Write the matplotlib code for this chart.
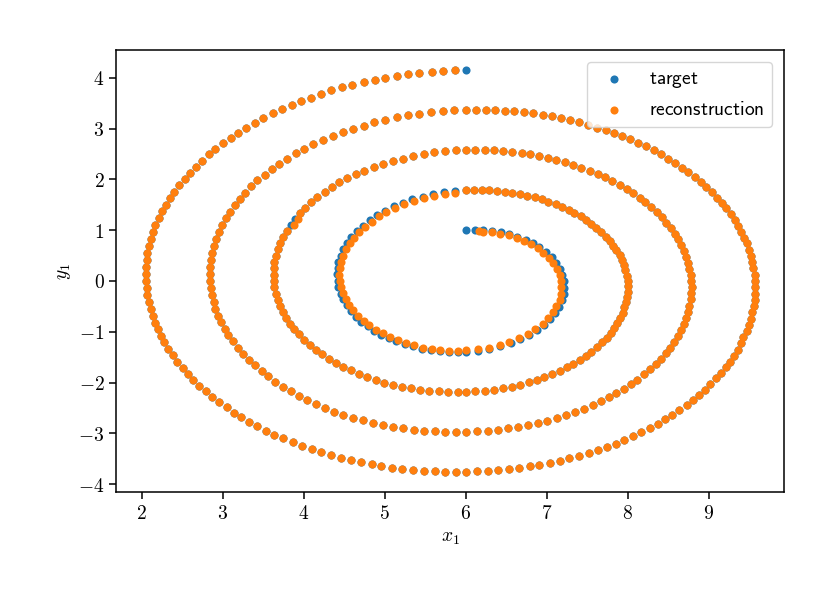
import matplotlib
matplotlib.use("Agg")
import matplotlib.pyplot as plt
from matplotlib.ticker import FuncFormatter

# --------------------------------------------------
# DATA (read off the reference spiral)
# --------------------------------------------------

target_x = [
    6.01, 6.12, 6.22, 6.33, 6.44, 6.54, 6.64, 6.74, 6.83, 6.91, 6.99, 7.06, 7.11, 7.16, 7.19,
    7.21, 7.21, 7.21, 7.19, 7.15, 7.10, 7.04, 6.97, 6.88, 6.78, 6.67, 6.56, 6.43, 6.29, 6.15,
    6.01, 5.90, 5.79, 5.68, 5.57, 5.46, 5.35, 5.25, 5.14, 5.05, 4.95, 4.87, 4.79, 4.71, 4.65,
    4.59, 4.53, 4.49, 4.46, 4.43, 4.42, 4.41, 4.42, 4.43, 4.46, 4.49, 4.54, 4.59, 4.66, 4.73,
    4.82, 4.91, 5.01, 5.11, 5.23, 5.34, 5.47, 5.60, 5.73, 5.87,
    6.01, 6.10, 6.20, 6.29, 6.39, 6.48, 6.57, 6.67, 6.76, 6.85, 6.94, 7.02, 7.11, 7.19, 7.27,
    7.34, 7.42, 7.49, 7.55, 7.61, 7.67, 7.73, 7.78, 7.82, 7.86, 7.90, 7.93, 7.95, 7.97, 7.99,
    8.00, 8.00, 8.00, 7.99, 7.98, 7.96, 7.94, 7.91, 7.87, 7.83, 7.79, 7.74, 7.68, 7.62, 7.55,
    7.48, 7.41, 7.33, 7.25, 7.16, 7.07, 6.97, 6.88, 6.78, 6.67, 6.57, 6.46, 6.35, 6.24, 6.12,
    6.01, 5.90, 5.78, 5.67, 5.55, 5.44, 5.32, 5.21, 5.10, 4.99, 4.89, 4.78, 4.68, 4.58, 4.49,
    4.40, 4.31, 4.23, 4.15, 4.08, 4.01, 3.94, 3.88, 3.83, 3.78, 3.74, 3.71, 3.68, 3.66, 3.64,
    3.63, 3.63, 3.63, 3.64, 3.66, 3.68, 3.71, 3.75, 3.79, 3.84, 3.89, 3.95, 4.02, 4.09, 4.17,
    4.26, 4.35, 4.44, 4.54, 4.65, 4.75, 4.87, 4.98, 5.10, 5.23, 5.35, 5.48, 5.61, 5.74, 5.88,
    6.01, 6.12, 6.24, 6.35, 6.46, 6.57, 6.69, 6.80, 6.91, 7.02, 7.12, 7.23, 7.33, 7.43, 7.53,
    7.63, 7.72, 7.81, 7.90, 7.99, 8.07, 8.15, 8.22, 8.29, 8.36, 8.42, 8.47, 8.53, 8.58, 8.62,
    8.66, 8.69, 8.72, 8.74, 8.76, 8.78,
    8.78, 8.79, 8.78, 8.78, 8.76, 8.75, 8.72, 8.69, 8.66, 8.62, 8.57, 8.52, 8.47, 8.41, 8.35,
    8.28, 8.20, 8.12, 8.04, 7.95, 7.86, 7.77, 7.67, 7.57, 7.46, 7.35, 7.24, 7.13, 7.01, 6.89,
    6.77, 6.65, 6.52, 6.40, 6.27, 6.14,
    6.01, 5.88, 5.75, 5.62, 5.49, 5.36, 5.23, 5.10, 4.98, 4.85, 4.73, 4.61, 4.49, 4.38, 4.26,
    4.15, 4.04, 3.94, 3.84, 3.74, 3.65, 3.56, 3.48, 3.40, 3.32, 3.25, 3.19, 3.13, 3.07, 3.03,
    2.98, 2.94, 2.91, 2.89, 2.87, 2.85,
    2.84, 2.84, 2.84, 2.85, 2.87, 2.89, 2.92, 2.95, 2.99, 3.04, 3.09, 3.15, 3.21, 3.28, 3.35,
    3.43, 3.52, 3.61, 3.70, 3.80, 3.90, 4.01, 4.12, 4.24, 4.36, 4.48, 4.61, 4.74, 4.87, 5.01,
    5.15, 5.29, 5.43, 5.57, 5.72, 5.86,
    6.01, 6.13, 6.25, 6.36, 6.48, 6.60, 6.72, 6.83, 6.95, 7.06, 7.18, 7.29, 7.40, 7.51, 7.62,
    7.73, 7.83, 7.93, 8.03, 8.13, 8.23, 8.32, 8.41, 8.50, 8.59, 8.67, 8.75, 8.83, 8.90, 8.97,
    9.04, 9.10, 9.16, 9.22, 9.27, 9.32, 9.36, 9.40, 9.44, 9.47, 9.50, 9.52, 9.54, 9.55, 9.57,
    9.57, 9.57, 9.57, 9.57, 9.56, 9.54, 9.52, 9.50, 9.47, 9.43, 9.40, 9.36, 9.31, 9.26, 9.21,
    9.15, 9.09, 9.02, 8.96, 8.88, 8.81, 8.73, 8.64, 8.55, 8.46, 8.37, 8.27, 8.17, 8.07, 7.96,
    7.86, 7.75, 7.63, 7.52, 7.40, 7.28, 7.16, 7.04, 6.91, 6.79, 6.66, 6.53, 6.40, 6.27, 6.14,
    6.01, 5.88, 5.75, 5.62, 5.48, 5.35, 5.22, 5.09, 4.96, 4.84, 4.71, 4.58, 4.46, 4.34, 4.22,
    4.10, 3.98, 3.87, 3.75, 3.64, 3.54, 3.43, 3.33, 3.23, 3.14, 3.05, 2.96, 2.87, 2.79, 2.71,
    2.64, 2.57, 2.51, 2.44, 2.39, 2.33, 2.28, 2.24, 2.20, 2.17, 2.14, 2.11, 2.09, 2.07, 2.06,
    2.05, 2.05, 2.05, 2.06, 2.07, 2.09, 2.11, 2.14, 2.17, 2.21, 2.25, 2.30, 2.35, 2.40, 2.46,
    2.53, 2.60, 2.67, 2.75, 2.83, 2.91, 3.00, 3.10, 3.19, 3.29, 3.40, 3.50, 3.62, 3.73, 3.85,
    3.97, 4.09, 4.21, 4.34, 4.47, 4.60, 4.74, 4.88, 5.01, 5.15, 5.29, 5.43, 5.58, 5.72, 5.87,
    6.01,
]

target_y = [
    1.00, 1.01, 1.00, 0.99, 0.96, 0.92, 0.87, 0.81, 0.74, 0.66, 0.57, 0.47, 0.36, 0.24, 0.12,
    0.00, -0.13, -0.25, -0.38, -0.51, -0.63, -0.75, -0.86, -0.97, -1.06, -1.15, -1.23, -1.29, -1.34, -1.37,
    -1.39, -1.40, -1.40, -1.38, -1.36, -1.33, -1.29, -1.25, -1.19, -1.13, -1.06, -0.98, -0.89, -0.80, -0.70,
    -0.59, -0.48, -0.36, -0.25, -0.12, 0.00, 0.13, 0.25, 0.38, 0.50, 0.63, 0.75, 0.87, 0.98, 1.09,
    1.20, 1.29, 1.38, 1.47, 1.54, 1.61, 1.66, 1.71, 1.75, 1.77,
    1.79, 1.79, 1.79, 1.79, 1.77, 1.76, 1.74, 1.71, 1.68, 1.65, 1.61, 1.56, 1.51, 1.46, 1.40,
    1.33, 1.27, 1.20, 1.12, 1.04, 0.96, 0.87, 0.79, 0.69, 0.60, 0.51, 0.41, 0.31, 0.21, 0.10,
    0.00, -0.10, -0.21, -0.31, -0.42, -0.52, -0.63, -0.73, -0.83, -0.93, -1.03, -1.12, -1.21, -1.30, -1.39,
    -1.47, -1.55, -1.63, -1.70, -1.77, -1.83, -1.89, -1.95, -1.99, -2.04, -2.08, -2.11, -2.14, -2.16, -2.17,
    -2.18, -2.19, -2.18, -2.17, -2.16, -2.14, -2.11, -2.08, -2.04, -2.00, -1.95, -1.89, -1.83, -1.76, -1.69,
    -1.61, -1.53, -1.44, -1.35, -1.26, -1.16, -1.05, -0.95, -0.84, -0.72, -0.61, -0.49, -0.37, -0.25, -0.12,
    0.00, 0.12, 0.25, 0.38, 0.50, 0.62, 0.75, 0.87, 0.99, 1.11, 1.22, 1.34, 1.44, 1.55, 1.65,
    1.75, 1.85, 1.94, 2.02, 2.10, 2.17, 2.24, 2.31, 2.36, 2.41, 2.46, 2.49, 2.53, 2.55, 2.57,
    2.58, 2.58, 2.58, 2.57, 2.56, 2.54, 2.52, 2.49, 2.46, 2.43, 2.39, 2.34, 2.29, 2.23, 2.17,
    2.11, 2.04, 1.97, 1.89, 1.81, 1.73, 1.64, 1.55, 1.45, 1.35, 1.25, 1.15, 1.04, 0.93, 0.82,
    0.71, 0.59, 0.48, 0.36, 0.24, 0.12,
    0.00, -0.12, -0.24, -0.36, -0.49, -0.61, -0.73, -0.85, -0.96, -1.08, -1.20, -1.31, -1.42, -1.53, -1.64,
    -1.74, -1.84, -1.94, -2.03, -2.12, -2.21, -2.29, -2.37, -2.45, -2.52, -2.58, -2.64, -2.70, -2.75, -2.80,
    -2.84, -2.87, -2.90, -2.93, -2.95, -2.96,
    -2.97, -2.97, -2.97, -2.96, -2.95, -2.93, -2.90, -2.87, -2.83, -2.79, -2.74, -2.69, -2.63, -2.57, -2.50,
    -2.42, -2.34, -2.26, -2.17, -2.08, -1.98, -1.88, -1.77, -1.66, -1.55, -1.43, -1.32, -1.19, -1.07, -0.94,
    -0.81, -0.68, -0.55, -0.41, -0.28, -0.14,
    0.00, 0.14, 0.28, 0.42, 0.55, 0.69, 0.83, 0.96, 1.10, 1.23, 1.36, 1.49, 1.62, 1.74, 1.86,
    1.98, 2.09, 2.20, 2.31, 2.41, 2.51, 2.60, 2.69, 2.78, 2.86, 2.93, 3.00, 3.06, 3.12, 3.17,
    3.22, 3.26, 3.29, 3.32, 3.34, 3.36,
    3.36, 3.37, 3.37, 3.36, 3.35, 3.34, 3.32, 3.30, 3.27, 3.24, 3.20, 3.16, 3.12, 3.08, 3.02,
    2.97, 2.91, 2.85, 2.79, 2.72, 2.65, 2.57, 2.49, 2.41, 2.32, 2.23, 2.14, 2.05, 1.95, 1.85,
    1.75, 1.64, 1.54, 1.43, 1.32, 1.20, 1.09, 0.97, 0.85, 0.74, 0.61, 0.49, 0.37, 0.25, 0.12,
    0.00, -0.12, -0.25, -0.37, -0.50, -0.62, -0.75, -0.87, -0.99, -1.11, -1.23, -1.35, -1.47, -1.59, -1.70,
    -1.81, -1.92, -2.03, -2.14, -2.24, -2.35, -2.44, -2.54, -2.63, -2.72, -2.81, -2.90, -2.98, -3.05, -3.13,
    -3.20, -3.26, -3.33, -3.39, -3.44, -3.49, -3.54, -3.58, -3.62, -3.65, -3.68, -3.71, -3.73, -3.74, -3.75,
    -3.76, -3.76, -3.76, -3.75, -3.74, -3.72, -3.70, -3.68, -3.65, -3.61, -3.57, -3.53, -3.48, -3.43, -3.37,
    -3.31, -3.25, -3.18, -3.10, -3.03, -2.95, -2.86, -2.77, -2.68, -2.59, -2.49, -2.38, -2.28, -2.17, -2.06,
    -1.95, -1.83, -1.71, -1.59, -1.46, -1.34, -1.21, -1.08, -0.95, -0.82, -0.68, -0.55, -0.41, -0.28, -0.14,
    0.00, 0.14, 0.28, 0.41, 0.55, 0.69, 0.83, 0.96, 1.10, 1.23, 1.37, 1.50, 1.63, 1.76, 1.89,
    2.01, 2.13, 2.25, 2.37, 2.49, 2.60, 2.71, 2.81, 2.92, 3.02, 3.11, 3.21, 3.30, 3.38, 3.46,
    3.54, 3.61, 3.68, 3.75, 3.81, 3.86, 3.91, 3.96, 4.00, 4.04, 4.07, 4.10, 4.12, 4.13, 4.15,
    4.15,
]

recon_x = [
    6.16, 6.22, 6.32, 6.43, 6.53, 6.63, 6.72, 6.81, 6.89, 6.96, 7.03, 7.08, 7.13, 7.16, 7.18,
    7.18, 7.18, 7.16, 7.12, 7.08, 7.02, 6.95, 6.86, 6.77, 6.66, 6.54, 6.42, 6.29, 6.15,
    6.01, 5.90, 5.79, 5.68, 5.58, 5.47, 5.36, 5.26, 5.16, 5.07, 4.98, 4.89, 4.81, 4.74, 4.67,
    4.61, 4.56, 4.52, 4.49, 4.46, 4.45, 4.44, 4.45, 4.46, 4.49, 4.52, 4.57, 4.62, 4.68, 4.76,
    4.84, 4.93, 5.02, 5.13, 5.24, 5.36, 5.48, 5.61, 5.74, 5.87,
    6.01, 6.10, 6.20, 6.29, 6.39, 6.48, 6.57, 6.67, 6.76, 6.85, 6.94, 7.02, 7.11, 7.19, 7.27,
    7.34, 7.42, 7.49, 7.55, 7.61, 7.67, 7.73, 7.78, 7.82, 7.86, 7.90, 7.93, 7.95, 7.97, 7.99,
    8.00, 8.00, 8.00, 7.99, 7.98, 7.96, 7.94, 7.91, 7.87, 7.83, 7.79, 7.74, 7.68, 7.62, 7.55,
    7.48, 7.41, 7.33, 7.25, 7.16, 7.07, 6.97, 6.88, 6.78, 6.67, 6.57, 6.46, 6.35, 6.24, 6.12,
    6.01, 5.90, 5.78, 5.67, 5.55, 5.44, 5.32, 5.21, 5.10, 4.99, 4.89, 4.78, 4.68, 4.58, 4.49,
    4.40, 4.31, 4.23, 4.15, 4.08, 4.01, 3.94, 3.88, 3.83, 3.78, 3.74, 3.71, 3.68, 3.66, 3.64,
    3.63, 3.63, 3.63, 3.64, 3.66, 3.68, 3.71, 3.75, 3.79, 3.88, 3.93, 3.95, 4.02, 4.09, 4.17,
    4.26, 4.35, 4.44, 4.54, 4.65, 4.75, 4.87, 4.98, 5.10, 5.23, 5.35, 5.48, 5.61, 5.74, 5.88,
    6.01, 6.12, 6.24, 6.35, 6.46, 6.57, 6.69, 6.80, 6.91, 7.02, 7.12, 7.23, 7.33, 7.43, 7.53,
    7.63, 7.72, 7.81, 7.90, 7.99, 8.07, 8.15, 8.22, 8.29, 8.36, 8.42, 8.47, 8.53, 8.58, 8.62,
    8.66, 8.69, 8.72, 8.74, 8.76, 8.78,
    8.78, 8.79, 8.78, 8.78, 8.76, 8.75, 8.72, 8.69, 8.66, 8.62, 8.57, 8.52, 8.47, 8.41, 8.35,
    8.28, 8.20, 8.12, 8.04, 7.95, 7.86, 7.77, 7.67, 7.57, 7.46, 7.35, 7.24, 7.13, 7.01, 6.89,
    6.77, 6.65, 6.52, 6.40, 6.27, 6.14,
    6.01, 5.88, 5.75, 5.62, 5.49, 5.36, 5.23, 5.10, 4.98, 4.85, 4.73, 4.61, 4.49, 4.38, 4.26,
    4.15, 4.04, 3.94, 3.84, 3.74, 3.65, 3.56, 3.48, 3.40, 3.32, 3.25, 3.19, 3.13, 3.07, 3.03,
    2.98, 2.94, 2.91, 2.89, 2.87, 2.85,
    2.84, 2.84, 2.84, 2.85, 2.87, 2.89, 2.92, 2.95, 2.99, 3.04, 3.09, 3.15, 3.21, 3.28, 3.35,
    3.43, 3.52, 3.61, 3.70, 3.80, 3.90, 4.01, 4.12, 4.24, 4.36, 4.48, 4.61, 4.74, 4.87, 5.01,
    5.15, 5.29, 5.43, 5.57, 5.72, 5.86,
    6.01, 6.13, 6.25, 6.36, 6.48, 6.60, 6.72, 6.83, 6.95, 7.06, 7.18, 7.29, 7.40, 7.51, 7.62,
    7.73, 7.83, 7.93, 8.03, 8.13, 8.23, 8.32, 8.41, 8.50, 8.59, 8.67, 8.75, 8.83, 8.90, 8.97,
    9.04, 9.10, 9.16, 9.22, 9.27, 9.32, 9.36, 9.40, 9.44, 9.47, 9.50, 9.52, 9.54, 9.55, 9.57,
    9.57, 9.57, 9.57, 9.57, 9.56, 9.54, 9.52, 9.50, 9.47, 9.43, 9.40, 9.36, 9.31, 9.26, 9.21,
    9.15, 9.09, 9.02, 8.96, 8.88, 8.81, 8.73, 8.64, 8.55, 8.46, 8.37, 8.27, 8.17, 8.07, 7.96,
    7.86, 7.75, 7.63, 7.52, 7.40, 7.28, 7.16, 7.04, 6.91, 6.79, 6.66, 6.53, 6.40, 6.27, 6.14,
    6.01, 5.88, 5.75, 5.62, 5.48, 5.35, 5.22, 5.09, 4.96, 4.84, 4.71, 4.58, 4.46, 4.34, 4.22,
    4.10, 3.98, 3.87, 3.75, 3.64, 3.54, 3.43, 3.33, 3.23, 3.14, 3.05, 2.96, 2.87, 2.79, 2.71,
    2.64, 2.57, 2.51, 2.44, 2.39, 2.33, 2.28, 2.24, 2.20, 2.17, 2.14, 2.11, 2.09, 2.07, 2.06,
    2.05, 2.05, 2.05, 2.06, 2.07, 2.09, 2.11, 2.14, 2.17, 2.21, 2.25, 2.30, 2.35, 2.40, 2.46,
    2.53, 2.60, 2.67, 2.75, 2.83, 2.91, 3.00, 3.10, 3.19, 3.29, 3.40, 3.50, 3.62, 3.73, 3.85,
    3.97, 4.09, 4.21, 4.34, 4.47, 4.60, 4.74, 4.88, 5.01, 5.15, 5.29, 5.43, 5.58, 5.72, 5.87,
]

recon_y = [
    0.98, 0.97, 0.96, 0.93, 0.90, 0.85, 0.79, 0.72, 0.64, 0.55, 0.45, 0.35, 0.24, 0.12, 0.00,
    -0.12, -0.25, -0.37, -0.50, -0.62, -0.73, -0.84, -0.95, -1.04, -1.12, -1.20, -1.26, -1.31, -1.34,
    -1.36, -1.37, -1.37, -1.36, -1.33, -1.31, -1.27, -1.22, -1.17, -1.10, -1.03, -0.96, -0.87, -0.78, -0.68,
    -0.58, -0.47, -0.36, -0.24, -0.12, 0.00, 0.12, 0.25, 0.37, 0.49, 0.62, 0.74, 0.85, 0.96, 1.07,
    1.17, 1.27, 1.36, 1.44, 1.51, 1.58, 1.63, 1.68, 1.72, 1.74,
    1.79, 1.79, 1.79, 1.79, 1.77, 1.76, 1.74, 1.71, 1.68, 1.65, 1.61, 1.56, 1.51, 1.46, 1.40,
    1.33, 1.27, 1.20, 1.12, 1.04, 0.96, 0.87, 0.79, 0.69, 0.60, 0.51, 0.41, 0.31, 0.21, 0.10,
    0.00, -0.10, -0.21, -0.31, -0.42, -0.52, -0.63, -0.73, -0.83, -0.93, -1.03, -1.12, -1.21, -1.30, -1.39,
    -1.47, -1.55, -1.63, -1.70, -1.77, -1.83, -1.89, -1.95, -1.99, -2.04, -2.08, -2.11, -2.14, -2.16, -2.17,
    -2.18, -2.19, -2.18, -2.17, -2.16, -2.14, -2.11, -2.08, -2.04, -2.00, -1.95, -1.89, -1.83, -1.76, -1.69,
    -1.61, -1.53, -1.44, -1.35, -1.26, -1.16, -1.05, -0.95, -0.84, -0.72, -0.61, -0.49, -0.37, -0.25, -0.12,
    0.00, 0.12, 0.25, 0.38, 0.50, 0.62, 0.75, 0.87, 0.99, 1.11, 1.22, 1.34, 1.44, 1.55, 1.65,
    1.75, 1.85, 1.94, 2.02, 2.10, 2.17, 2.24, 2.31, 2.36, 2.41, 2.46, 2.49, 2.53, 2.55, 2.57,
    2.58, 2.58, 2.58, 2.57, 2.56, 2.54, 2.52, 2.49, 2.46, 2.43, 2.39, 2.34, 2.29, 2.23, 2.17,
    2.11, 2.04, 1.97, 1.89, 1.81, 1.73, 1.64, 1.55, 1.45, 1.35, 1.25, 1.15, 1.04, 0.93, 0.82,
    0.71, 0.59, 0.48, 0.36, 0.24, 0.12,
    0.00, -0.12, -0.24, -0.36, -0.49, -0.61, -0.73, -0.85, -0.96, -1.08, -1.20, -1.31, -1.42, -1.53, -1.64,
    -1.74, -1.84, -1.94, -2.03, -2.12, -2.21, -2.29, -2.37, -2.45, -2.52, -2.58, -2.64, -2.70, -2.75, -2.80,
    -2.84, -2.87, -2.90, -2.93, -2.95, -2.96,
    -2.97, -2.97, -2.97, -2.96, -2.95, -2.93, -2.90, -2.87, -2.83, -2.79, -2.74, -2.69, -2.63, -2.57, -2.50,
    -2.42, -2.34, -2.26, -2.17, -2.08, -1.98, -1.88, -1.77, -1.66, -1.55, -1.43, -1.32, -1.19, -1.07, -0.94,
    -0.81, -0.68, -0.55, -0.41, -0.28, -0.14,
    0.00, 0.14, 0.28, 0.42, 0.55, 0.69, 0.83, 0.96, 1.10, 1.23, 1.36, 1.49, 1.62, 1.74, 1.86,
    1.98, 2.09, 2.20, 2.31, 2.41, 2.51, 2.60, 2.69, 2.78, 2.86, 2.93, 3.00, 3.06, 3.12, 3.17,
    3.22, 3.26, 3.29, 3.32, 3.34, 3.36,
    3.36, 3.37, 3.37, 3.36, 3.35, 3.34, 3.32, 3.30, 3.27, 3.24, 3.20, 3.16, 3.12, 3.08, 3.02,
    2.97, 2.91, 2.85, 2.79, 2.72, 2.65, 2.57, 2.49, 2.41, 2.32, 2.23, 2.14, 2.05, 1.95, 1.85,
    1.75, 1.64, 1.54, 1.43, 1.32, 1.20, 1.09, 0.97, 0.85, 0.74, 0.61, 0.49, 0.37, 0.25, 0.12,
    0.00, -0.12, -0.25, -0.37, -0.50, -0.62, -0.75, -0.87, -0.99, -1.11, -1.23, -1.35, -1.47, -1.59, -1.70,
    -1.81, -1.92, -2.03, -2.14, -2.24, -2.35, -2.44, -2.54, -2.63, -2.72, -2.81, -2.90, -2.98, -3.05, -3.13,
    -3.20, -3.26, -3.33, -3.39, -3.44, -3.49, -3.54, -3.58, -3.62, -3.65, -3.68, -3.71, -3.73, -3.74, -3.75,
    -3.76, -3.76, -3.76, -3.75, -3.74, -3.72, -3.70, -3.68, -3.65, -3.61, -3.57, -3.53, -3.48, -3.43, -3.37,
    -3.31, -3.25, -3.18, -3.10, -3.03, -2.95, -2.86, -2.77, -2.68, -2.59, -2.49, -2.38, -2.28, -2.17, -2.06,
    -1.95, -1.83, -1.71, -1.59, -1.46, -1.34, -1.21, -1.08, -0.95, -0.82, -0.68, -0.55, -0.41, -0.28, -0.14,
    0.00, 0.14, 0.28, 0.41, 0.55, 0.69, 0.83, 0.96, 1.10, 1.23, 1.37, 1.50, 1.63, 1.76, 1.89,
    2.01, 2.13, 2.25, 2.37, 2.49, 2.60, 2.71, 2.81, 2.92, 3.02, 3.11, 3.21, 3.30, 3.38, 3.46,
    3.54, 3.61, 3.68, 3.75, 3.81, 3.86, 3.91, 3.96, 4.00, 4.04, 4.07, 4.10, 4.12, 4.13, 4.15,
]

x_ticks = [2, 3, 4, 5, 6, 7, 8, 9]
y_ticks = [-4, -3, -2, -1, 0, 1, 2, 3, 4]

# --------------------------------------------------
# PLOT
# --------------------------------------------------

plt.rcParams["mathtext.fontset"] = "cm"

fig = plt.figure(figsize=(8.35, 6.01), dpi=100)
ax = fig.add_axes([0.1389, 0.1809, 0.8, 0.7359])

ax.scatter(target_x, target_y, s=34, linewidths=0, color="#1f77b4",
           label=r"$\mathsf{target}$")
ax.scatter(recon_x, recon_y, s=34, linewidths=0, color="#ff7f0e",
           label=r"$\mathsf{reconstruction}$")

ax.set_xlim(1.683, 9.93)
ax.set_ylim(-4.16, 4.547)
ax.set_xticks(x_ticks)
ax.set_yticks(y_ticks)

tick_fmt = FuncFormatter(lambda v, pos: f"${v:.0f}$")
ax.xaxis.set_major_formatter(tick_fmt)
ax.yaxis.set_major_formatter(tick_fmt)
ax.tick_params(labelsize=14, length=4.8, width=1.1)
for spine in ax.spines.values():
    spine.set_linewidth(1.1)

ax.set_xlabel(r"$x_1$", fontsize=14)
ax.set_ylabel(r"$y_1$", fontsize=14)

ax.legend(loc="upper right", fontsize=14, borderaxespad=0.6)

fig.savefig("out.png", dpi=100)
